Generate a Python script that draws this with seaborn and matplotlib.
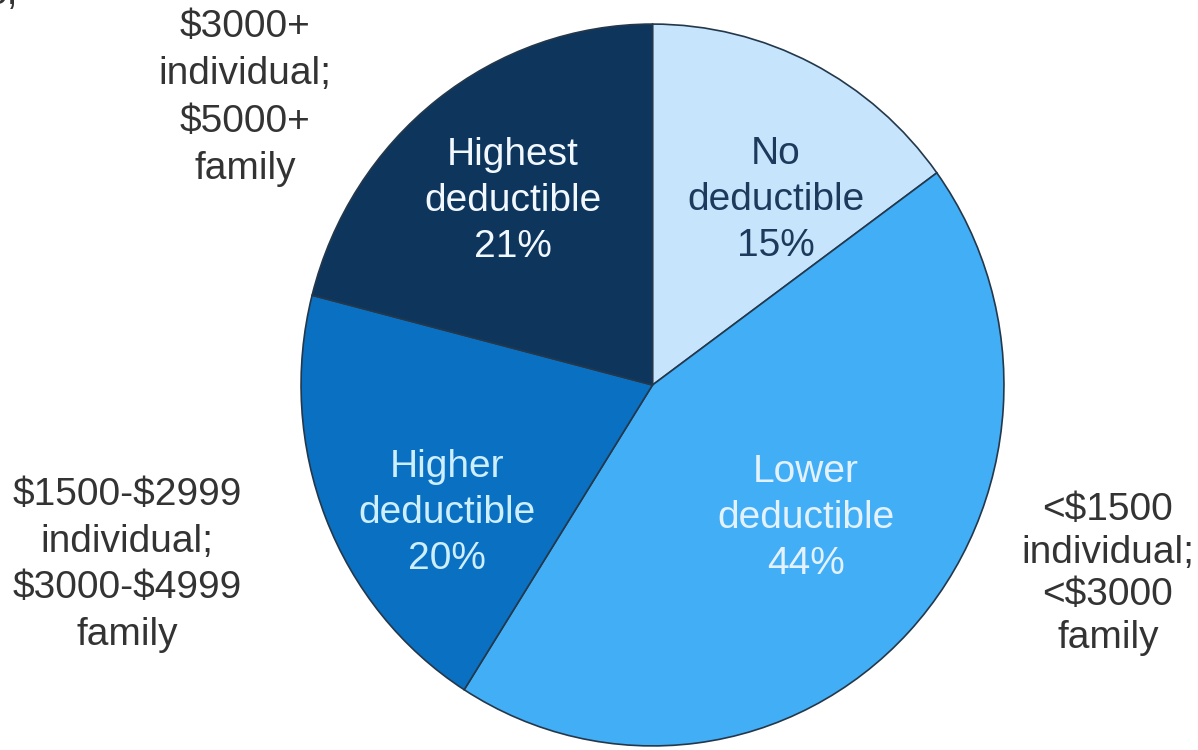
import matplotlib
matplotlib.use("Agg")
import matplotlib.pyplot as plt
import seaborn as sns

categories = ["No\ndeductible", "Lower\ndeductible", "Higher\ndeductible", "Highest\ndeductible"]
values = [15, 44, 20, 21]
colors = ["#C6E4FB", "#42AEF5", "#0A70C2", "#0E355C"]
label_colors = ["#1D3A5C", "#E4F2FF", "#CDEFFF", "#F2F8FF"]
range_labels = [
    "<\\$1500\nindividual;\n<\\$3000\nfamily",
    "\\$1500-\\$2999\nindividual;\n\\$3000-\\$4999\nfamily",
    "\\$3000+\nindividual;\n\\$5000+\nfamily",
]

sns.set_theme(style="white")
plt.rcParams["font.family"] = ["Liberation Sans", "DejaVu Sans"]

W, H = 1198, 750
fig = plt.figure(figsize=(W / 100, H / 100), dpi=100)
fig.patch.set_facecolor("white")

# pie box in pixels: left 300, right 1005, top 23, bottom 747
ax = fig.add_axes([300 / W, (H - 747) / H, 705 / W, 724 / H])
wedges, texts = ax.pie(
    values,
    colors=colors,
    startangle=90,
    counterclock=False,
    radius=1.0,
    labels=None,
    wedgeprops=dict(edgecolor="#24384C", linewidth=1.2),
)
ax.set_xlim(-1.003, 1.003)
ax.set_ylim(-1.003, 1.003)
ax.set_aspect("auto")
ax.axis("off")

# inside labels (centres in pixel coords)
inside_pos = [(776, 200), (806, 518), (447, 513), (513, 201)]
for cat, v, col, (px, py) in zip(categories, values, label_colors, inside_pos):
    fig.text(px / W, 1 - py / H, f"{cat}\n{v}%", ha="center", va="center",
             fontsize=28, color=col, linespacing=1.34)

# outside range labels
outside_pos = [(1108, 574, 1.24), (127, 565, 1.38), (245, 98, 1.4)]
for lab, (px, py, ls) in zip(range_labels, outside_pos):
    fig.text(px / W, 1 - py / H, lab, ha="center", va="center",
             fontsize=28, color="#333333", linespacing=ls)

# clipped fragment of text at top-left corner
fig.text(18 / W, 1 - 4 / H, "e,", ha="right", va="baseline", fontsize=28, color="#333333")

fig.savefig("out.png", dpi=100, facecolor="white")
